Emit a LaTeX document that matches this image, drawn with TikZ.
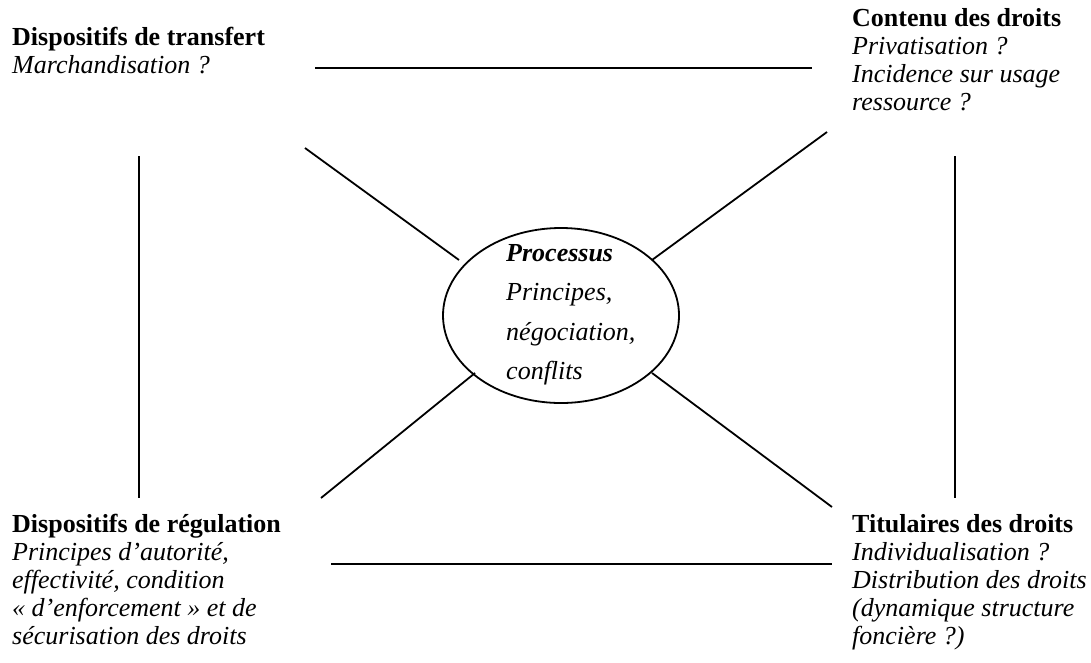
\documentclass[tikz,border=0pt]{standalone}
\usepackage{fontspec}
\setmainfont{Liberation Serif}
\usetikzlibrary{shapes.geometric}
\begin{document}
\begin{tikzpicture}[x=1pt,y=-1pt,
  lab/.style={anchor=base west, inner sep=0pt, align=left, font=\fontsize{26}{27.8}\selectfont},
  midlab/.style={anchor=base west, inner sep=0pt, align=left, font=\fontsize{26}{39.2}\selectfont},
  conn/.style={line width=1.8pt, line cap=butt},
  proc/.style={draw, ellipse, line width=1.8pt, minimum width=236pt, minimum height=175pt, inner sep=0pt}]
\useasboundingbox[fill=white] (0,0) rectangle (1091,662);

% text blocks (anchored at the baseline of their last line)
\node[lab] (tl) at (12,73.6) {\textbf{Dispositifs de transfert}\\\textit{Marchandisation ?}};
\node[lab] (tr) at (852,110.1) {\textbf{Contenu des droits}\\\textit{Privatisation ?}\\\textit{Incidence sur usage}\\\textit{ressource ?}};
\node[lab] (bl) at (12,644.1) {\textbf{Dispositifs de régulation}\\\textit{Principes d’autorité,}\\\textit{effectivité, condition}\\\textit{« d’enforcement » et de}\\\textit{sécurisation des droits}};
\node[lab] (br) at (852,644.1) {\textbf{Titulaires des droits}\\\textit{Individualisation ?}\\\textit{Distribution des droits}\\\textit{(dynamique structure}\\\textit{foncière ?)}};

% central ellipse
\node[proc] (ell) at (561,315.5) {};
\node[midlab] (proctext) at (506,379.3) {\textbf{\textit{Processus}}\\\textit{Principes,}\\\textit{négociation,}\\\textit{conflits}};

% connector end points
\coordinate (topA) at (315,68);   \coordinate (topB) at (812,68);
\coordinate (botA) at (331,564);  \coordinate (botB) at (832,564);
\coordinate (leftA) at (139,156); \coordinate (leftB) at (139,498);
\coordinate (rightA) at (955,156);\coordinate (rightB) at (955,498);
\coordinate (tlA) at (305,148);   \coordinate (tlB) at (459,260);
\coordinate (trA) at (827,132);   \coordinate (trB) at (652,260);
\coordinate (blA) at (321,498);   \coordinate (blB) at (475,373);
\coordinate (brA) at (832,507);   \coordinate (brB) at (652,373);

\draw[conn] (topA) -- (topB);
\draw[conn] (botA) -- (botB);
\draw[conn] (leftA) -- (leftB);
\draw[conn] (rightA) -- (rightB);
\draw[conn] (tlA) -- (tlB);
\draw[conn] (trA) -- (trB);
\draw[conn] (blA) -- (blB);
\draw[conn] (brA) -- (brB);
\end{tikzpicture}
\end{document}
